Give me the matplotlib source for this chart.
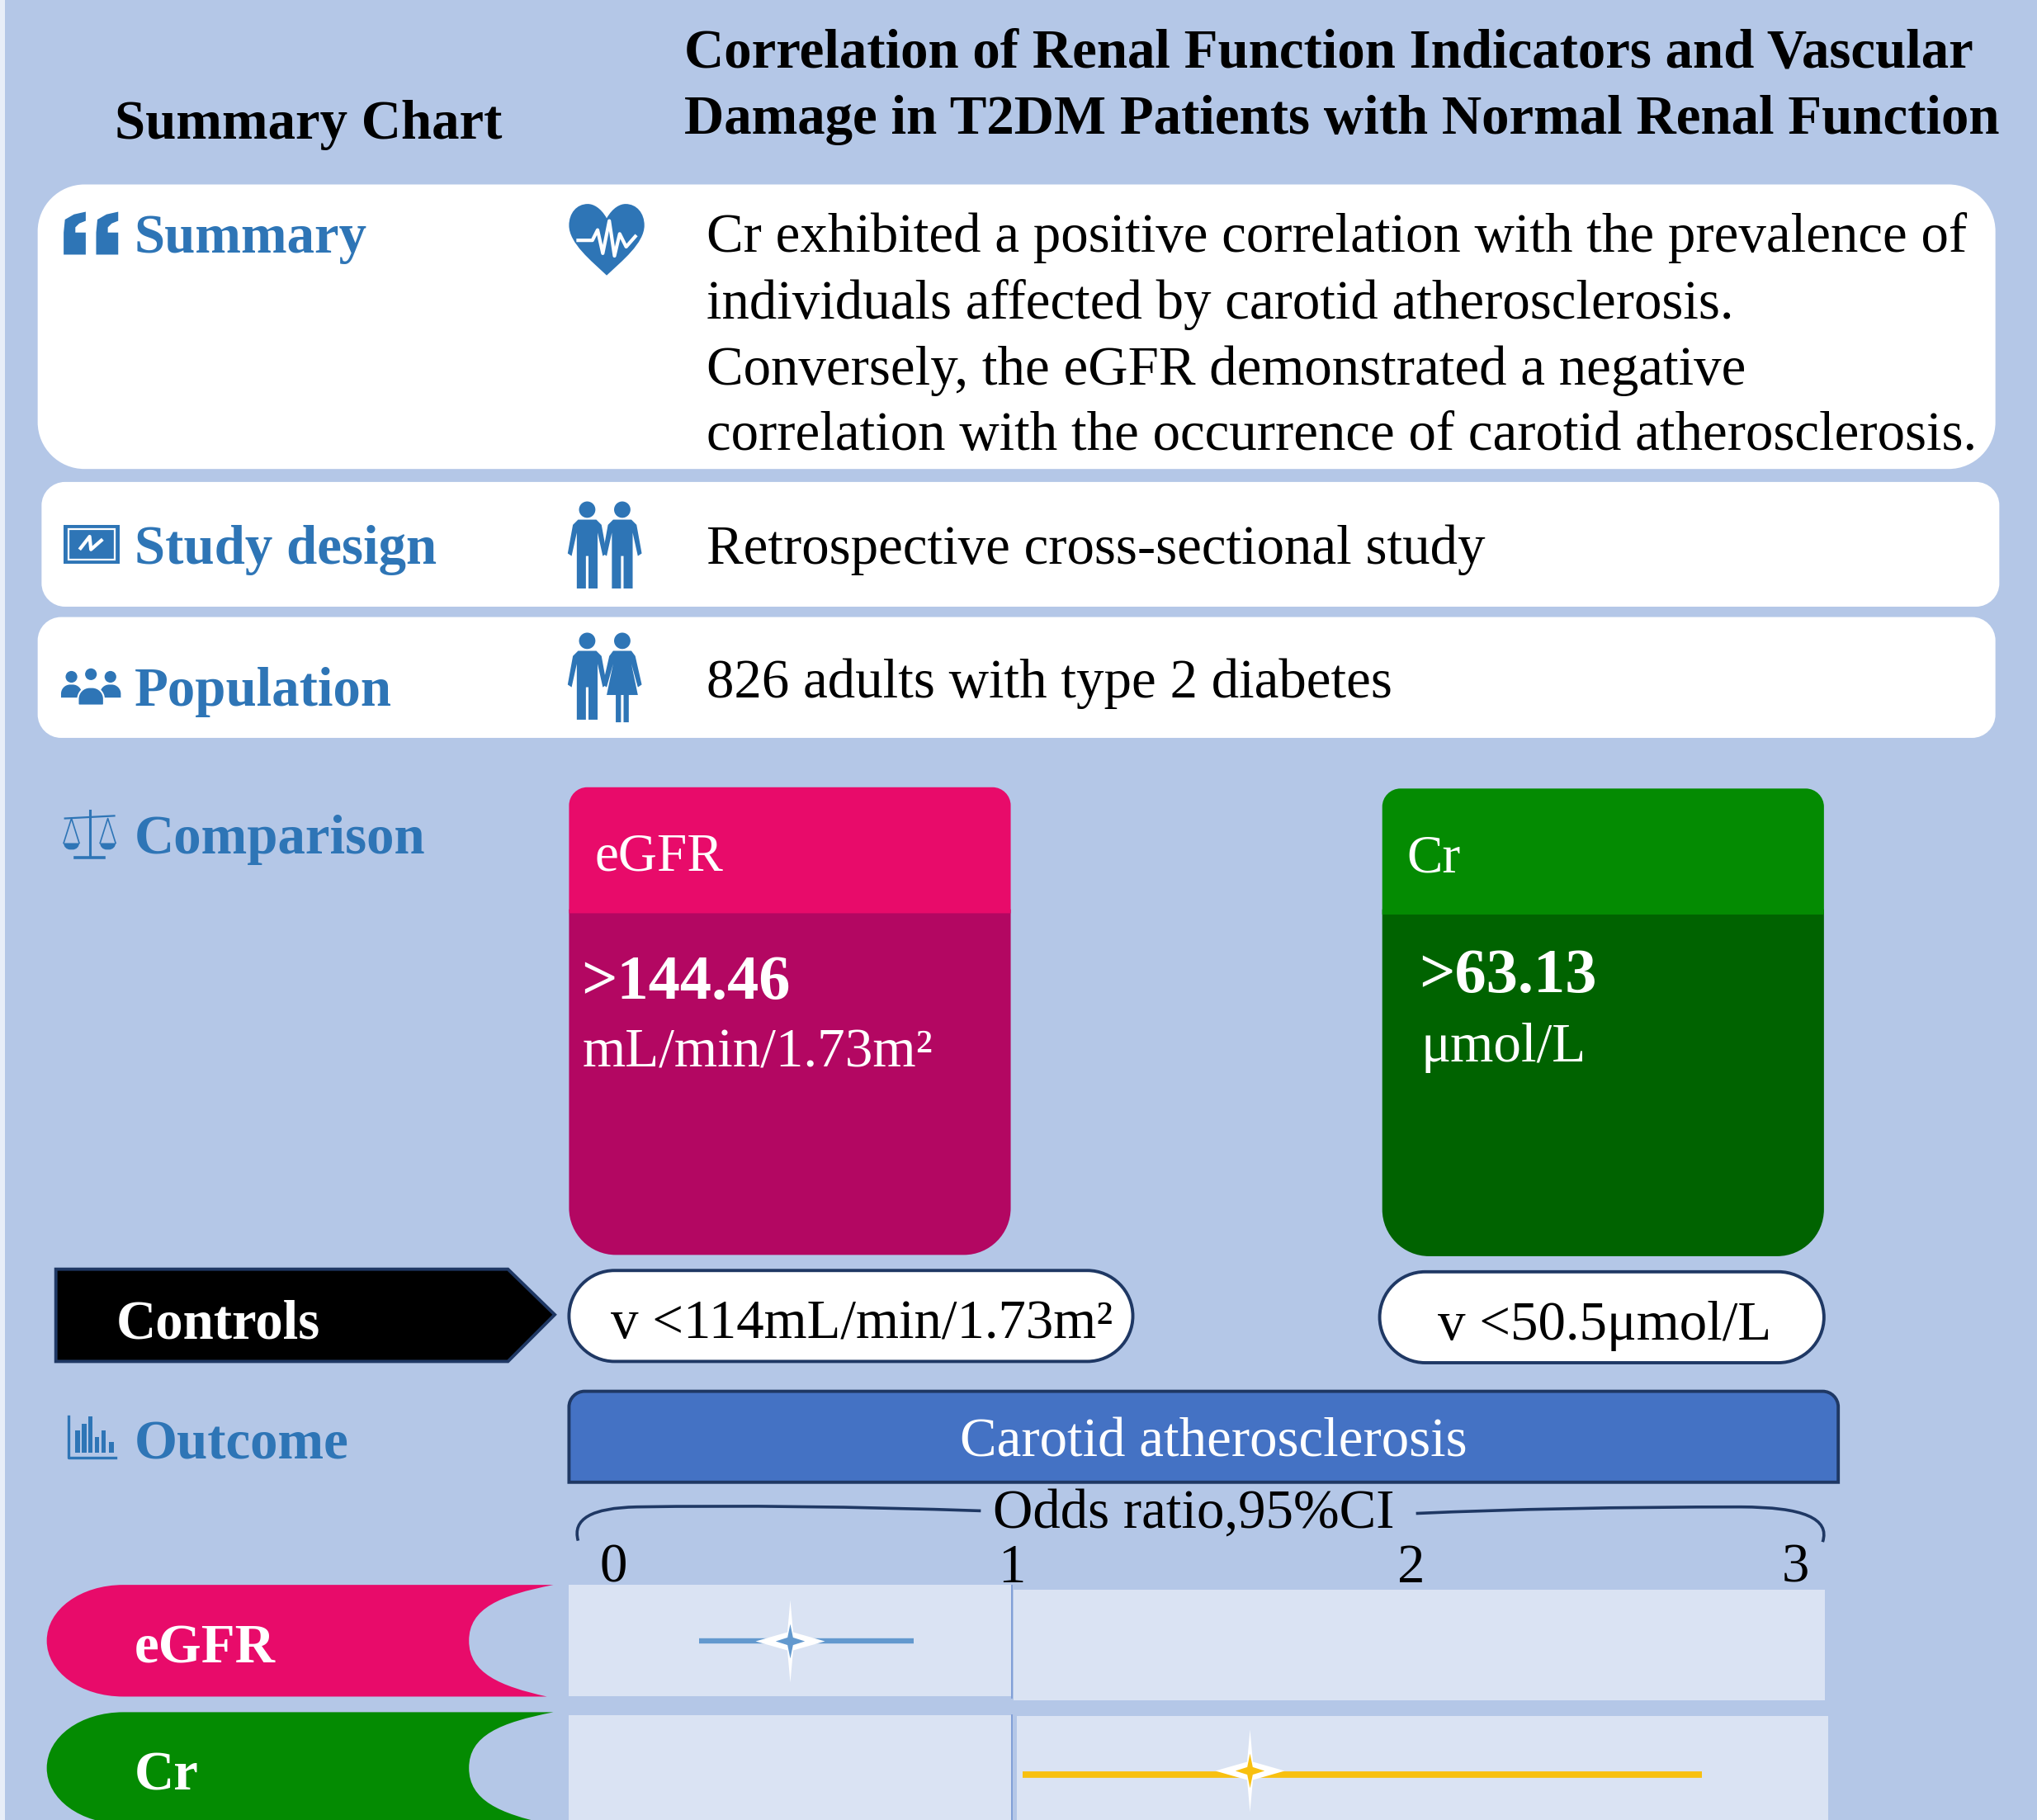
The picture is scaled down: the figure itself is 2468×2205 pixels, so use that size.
import matplotlib
matplotlib.use("Agg")
import matplotlib.pyplot as plt
from matplotlib.path import Path
from matplotlib.patches import PathPatch, Rectangle, Circle, Polygon

plt.rcParams["font.family"] = ["Liberation Serif", "DejaVu Serif"]

W, H = 2468, 2205
SW, SH = 1568, 1401  # layout below is in these units

BG = "#B4C7E7"
BLUE = "#2E75B6"
NAVY = "#1F3864"
PINK, PINK_DARK = "#E80B6A", "#B30762"
GREEN, GREEN_DARK = "#048B02", "#006300"
PANEL = "#DAE3F3"

title_lines = ["Correlation of Renal Function Indicators and Vascular",
               "Damage in T2DM Patients with Normal Renal Function"]
summary_lines = ["Cr exhibited a positive correlation with the prevalence of",
                 "individuals affected by carotid atherosclerosis.",
                 "Conversely, the eGFR demonstrated a negative",
                 "correlation with the occurrence of carotid atherosclerosis."]

or_labels = ["eGFR", "Cr"]
or_point = [0.443, 1.596]
or_low = [0.215, 1.026]
or_high = [0.753, 2.73]
or_colors = ["#6399CE", "#F8C010"]
or_ticks = [0, 1, 2, 3]

fig = plt.figure(figsize=(W / 100, H / 100), dpi=100, facecolor=BG)
ax = fig.add_axes([0, 0, 1, 1])
ax.set_xlim(0, SW)
ax.set_ylim(SH, 0)
ax.axis("off")

FS = 48.2


def rbox(x0, y0, x1, y1, radii, **kw):
    # rounded box, radii = tl, tr, br, bl
    tl, tr, br, bl = radii
    k = 0.45
    v = [(x0 + tl, y0), (x1 - tr, y0),
         (x1 - tr * k, y0), (x1, y0 + tr * k), (x1, y0 + tr), (x1, y1 - br),
         (x1, y1 - br * k), (x1 - br * k, y1), (x1 - br, y1), (x0 + bl, y1),
         (x0 + bl * k, y1), (x0, y1 - bl * k), (x0, y1 - bl), (x0, y0 + tl),
         (x0, y0 + tl * k), (x0 + tl * k, y0), (x0 + tl, y0), (x0 + tl, y0)]
    c4 = [Path.CURVE4] * 3
    c = [Path.MOVETO, Path.LINETO] + c4 + [Path.LINETO] + c4 + [Path.LINETO] + c4 + [Path.LINETO] + c4 + [Path.CLOSEPOLY]
    p = PathPatch(Path(v, c), **kw)
    ax.add_patch(p)
    return p


def label(x, y, s, size=FS, color="black", weight="normal", ha="left"):
    ax.text(x, y, s, fontsize=size, color=color, fontweight=weight, ha=ha, va="baseline")


def person(cx, top, woman=False):
    ax.add_patch(Circle((cx, top + 6.3), 6.3, color=BLUE, lw=0))
    if woman:
        pts = [(-7, 14), (7, 14), (10, 18), (15, 40), (12, 42), (7, 24), (12, 48), (5, 48), (5, 69), (1, 69), (1, 48),
               (-1, 48), (-1, 69), (-5, 69), (-5, 48), (-12, 48), (-7, 24), (-12, 42), (-15, 40), (-10, 18)]
    else:
        pts = [(-7, 14), (7, 14), (11, 18), (15, 40), (12, 42), (8, 24), (8, 67), (1, 67), (1, 42),
               (-1, 42), (-1, 67), (-8, 67), (-8, 24), (-12, 42), (-15, 40), (-11, 18)]
    ax.add_patch(Polygon([(cx + a, top + b) for a, b in pts], color=BLUE, lw=0))


def quote(x, y):
    v = [(x, y + 33), (x, y + 16), (x + 1, y + 6), (x + 8, y + 2), (x + 17, y), (x + 17, y + 7), (x + 12, y + 9),
         (x + 9, y + 12), (x + 9, y + 16), (x + 17, y + 16), (x + 17, y + 33), (x, y + 33)]
    ax.add_patch(Polygon(v, color=BLUE, lw=0))


def heart(x0, y0, x1, y1, **kw):
    w, h = x1 - x0, y1 - y0
    pts = [(0.5, 0.2), (0.42, 0.05), (0.32, 0.0), (0.25, 0.0), (0.1, 0.0), (0.0, 0.13), (0.0, 0.3),
           (0.0, 0.55), (0.3, 0.8), (0.5, 1.0), (0.7, 0.8), (1.0, 0.55), (1.0, 0.3),
           (1.0, 0.13), (0.9, 0.0), (0.75, 0.0), (0.68, 0.0), (0.58, 0.05), (0.5, 0.2)]
    v = [(x0 + a * w, y0 + b * h) for a, b in pts]
    c = [Path.MOVETO] + [Path.CURVE4] * 18
    ax.add_patch(PathPatch(Path(v, c), **kw))


# page
ax.add_patch(Rectangle((0, 0), 4, SH, color="#E8EEF8", lw=0))

# heading
label(88, 107, "Summary Chart", weight="bold")
label(527, 52, title_lines[0], weight="bold")
label(527, 103, title_lines[1], weight="bold")

# white rows
rbox(29, 142, 1536, 361, (36, 36, 36, 36), fc="white", ec="none")
rbox(32, 371, 1539, 467, (18, 18, 18, 18), fc="white", ec="none")
rbox(29, 475, 1536, 568, (18, 18, 18, 18), fc="white", ec="none")

for yy, s in zip([194, 245, 296, 346], summary_lines):
    label(544, yy, s)
label(544, 434, "Retrospective cross-sectional study")
label(544, 537, "826 adults with type 2 diabetes")

label(103.5, 194.5, "Summary", color=BLUE, weight="bold")
label(103.5, 434, "Study design", color=BLUE, weight="bold")
label(103.5, 543, "Population", color=BLUE, weight="bold")
label(103.5, 657, "Comparison", color=BLUE, weight="bold")
label(103.5, 1123, "Outcome", color=BLUE, weight="bold")

# icons
quote(49, 163)
quote(74, 163)
heart(438, 157, 496, 212, fc=BLUE, ec="none")
ax.plot([445, 456, 460, 464, 469, 473, 477, 482, 489], [185, 185, 177, 195, 170, 197, 180, 190, 182],
        color="white", lw=3, solid_joinstyle="round")

ax.add_patch(Rectangle((49, 404), 43, 30, color=BLUE, lw=0))
ax.add_patch(Rectangle((53, 407.5), 35, 23, fc="none", ec="white", lw=1.6))
ax.plot([62, 69, 70, 78], [422, 413, 423, 416], color="white", lw=3)

person(452, 386)
person(479, 386)
person(452, 487)
person(479, 487, woman=True)

for cx, cy, r in [(55, 521, 4.5), (70, 519, 4.5), (85, 521, 4.5)]:
    ax.add_patch(Circle((cx, cy), r, color=BLUE, lw=0))
rbox(47, 527, 63, 537, (7, 7, 0, 0), fc=BLUE, ec="none")
rbox(77, 527, 93, 537, (7, 7, 0, 0), fc=BLUE, ec="none")
rbox(60, 529, 80, 543, (9, 9, 1, 1), fc=BLUE, ec="white", lw=1.5)

ax.plot([69, 69], [624, 658], color=BLUE, lw=2.2)
ax.plot([50, 88], [630, 628], color=BLUE, lw=1.6)
ax.plot([58, 80], [660, 660], color=BLUE, lw=2.6)
ax.plot([49, 55, 61], [649, 630, 649], color=BLUE, lw=1.2)
ax.plot([77, 83, 89], [649, 630, 649], color=BLUE, lw=1.2)
rbox(49, 649, 61, 654, (0, 0, 5, 5), fc=BLUE, ec="none")
rbox(77, 649, 89, 654, (0, 0, 5, 5), fc=BLUE, ec="none")

ax.plot([53, 53, 89], [1090, 1122, 1122], color=BLUE, lw=2.4)
for bx, top in zip([58, 63, 68, 73, 78, 84], [1101, 1096, 1090, 1106, 1101, 1110]):
    ax.add_patch(Rectangle((bx, top), 3.4, 1118 - top, color=BLUE, lw=0))

# comparison cards
rbox(438, 700, 778, 966, (0, 0, 36, 36), fc=PINK_DARK, ec="none")
rbox(438, 606, 778, 703, (14, 14, 0, 0), fc=PINK, ec="none")
rbox(1064, 700, 1404, 967, (0, 0, 36, 36), fc=GREEN_DARK, ec="none")
rbox(1064, 607, 1404, 704, (14, 14, 0, 0), fc=GREEN, ec="none")

label(458, 670, "eGFR", 47, "white")
label(447.5, 769, ">144.46", 55, "white", "bold")
label(448, 821, "mL/min/1.73m²", 48.4, "white")
label(1083, 671, "Cr", 47, "white")
label(1092.5, 764, ">63.13", 55, "white", "bold")
label(1094, 817, "μmol/L", 48.4, "white")

# controls
ax.add_patch(Polygon([(43, 977), (391, 977), (427, 1012), (391, 1048), (43, 1048)], fc="black", ec=NAVY, lw=2.8))
label(89.5, 1030, "Controls", color="white", weight="bold")
rbox(438, 978, 872, 1048, (35, 35, 35, 35), fc="white", ec=NAVY, lw=2.8)
rbox(1062, 979, 1404, 1049, (35, 35, 35, 35), fc="white", ec=NAVY, lw=2.8)
label(470, 1030, "v <114mL/min/1.73m²")
label(1107, 1031, "v <50.5μmol/L")

# outcome
rbox(438, 1071, 1415, 1141, (12, 12, 0, 0), fc="#4472C4", ec=NAVY, lw=2.8)
label(934, 1121, "Carotid atherosclerosis", color="white", ha="center")
label(764, 1176, "Odds ratio,95%CI")

brace_l = Path([(445, 1186), (438, 1161), (490, 1160), (610, 1158), (755, 1163)],
               [Path.MOVETO, Path.CURVE3, Path.CURVE3, Path.CURVE3, Path.CURVE3])
brace_r = Path([(1403, 1187), (1412, 1160), (1340, 1160), (1200, 1160), (1090, 1165)],
               [Path.MOVETO, Path.CURVE3, Path.CURVE3, Path.CURVE3, Path.CURVE3])
for b in (brace_l, brace_r):
    ax.add_patch(PathPatch(b, fc="none", ec=NAVY, lw=2.6))

# row tabs
for lab, col, top, base in zip(or_labels, [PINK, GREEN], [1220, 1318], [1280, 1378]):
    bot = top + 86
    mid = top + 43
    v = [(426, top), (95, top), (62, top), (36, top + 19), (36, mid), (36, bot - 19), (62, bot), (95, bot), (421, bot),
         (385, bot - 8), (361, mid + 25), (361, mid), (361, mid - 25), (385, top + 8), (426, top), (426, top)]
    c = [Path.MOVETO, Path.LINETO] + [Path.CURVE4] * 6 + [Path.LINETO] + [Path.CURVE4] * 6 + [Path.CLOSEPOLY]
    ax.add_patch(PathPatch(Path(v, c), fc=col, ec="none"))
    label(103.5, base, lab, color="white", weight="bold")

# row panels
ax.add_patch(Rectangle((438, 1220), 340.5, 86, color=PANEL, lw=0))
ax.add_patch(Rectangle((780, 1224), 625, 85, color=PANEL, lw=0))
ax.add_patch(Rectangle((438, 1320), 340.5, 90, color=PANEL, lw=0))
ax.add_patch(Rectangle((783, 1321), 624, 90, color=PANEL, lw=0))

# forest plot
fx0, fx1, fy0, fy1 = 438, 1407, 1220, SH
ax2 = fig.add_axes([fx0 / SW, 1 - fy1 / SH, (fx1 - fx0) / SW, (fy1 - fy0) / SH])
ax2.patch.set_visible(False)
ax2.set_xlim(-0.111, 3.046)
ax2.set_ylim(1.38, -0.43)
for s in ax2.spines.values():
    s.set_visible(False)
ax2.set_yticks([])
ax2.xaxis.tick_top()
ax2.set_xticks(or_ticks)
ax2.set_xticklabels(or_ticks, fontsize=FS)
ax2.tick_params(axis="x", length=0, pad=-7.5)
ax2.get_xticklabels()[-1].set_ha("right")

star = Path([(0, 1), (0.07, 0.22), (0.84, 0), (0.07, -0.22), (0, -1), (-0.07, -0.22), (-0.84, 0), (-0.07, 0.22), (0, 1)],
            [Path.MOVETO] + [Path.LINETO] * 7 + [Path.CLOSEPOLY])
inner = Path([(0, 1), (0.16, 0.22), (0.85, 0), (0.16, -0.22), (0, -1), (-0.16, -0.22), (-0.85, 0), (-0.16, 0.22), (0, 1)],
             [Path.MOVETO] + [Path.LINETO] * 7 + [Path.CLOSEPOLY])
line_drop = [0.0, 0.03]
for i in range(len(or_labels)):
    ax2.plot([or_low[i], or_high[i]], [i + line_drop[i]] * 2, color=or_colors[i], lw=4.6 + i, solid_capstyle="butt")
    ax2.plot(or_point[i], i, marker=star, ms=72, color="white", mew=0)
    ax2.plot(or_point[i], i, marker=inner, ms=30, color=or_colors[i], mew=0)
ax2.plot([1, 1], [-0.43, 0.44], color="#7C9BD6", lw=1.3)
ax2.plot([1, 1], [0.575, 1.38], color="#7C9BD6", lw=1.3)

fig.savefig("out.png", dpi=100, facecolor=BG)
